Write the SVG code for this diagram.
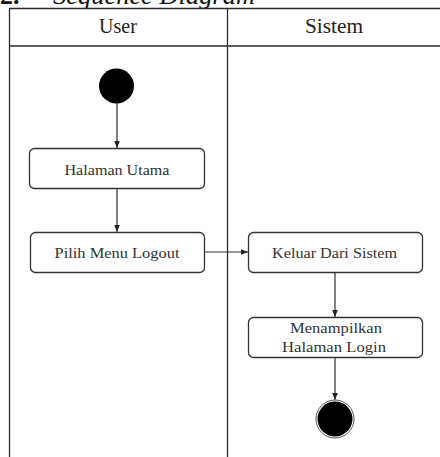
<svg xmlns="http://www.w3.org/2000/svg" width="440" height="457" viewBox="0 0 440 457">
  <defs>
    <style>
      .lane { fill: none; stroke: #2b2b2b; stroke-width: 1.3; }
      .box { fill: #ffffff; stroke: #333333; stroke-width: 1.3; }
      .lbl { font-family: "Liberation Serif", "Times New Roman", serif; font-size: 15.5px; fill: #333333; text-anchor: middle; }
      .head { font-family: "Liberation Serif", "Times New Roman", serif; font-size: 20px; fill: #222222; text-anchor: middle; }
      .edge { fill: none; stroke: #333333; stroke-width: 1.2; marker-end: url(#arrow); }
    </style>
    <marker id="arrow" viewBox="0 0 10 10" refX="10" refY="5" markerWidth="7" markerHeight="7" orient="auto" markerUnits="userSpaceOnUse">
      <path d="M0,1 L10,5 L0,9 Z" fill="#222222"/>
    </marker>
  </defs>

  <rect width="440" height="457" fill="#ffffff"/>

  <!-- section heading, partly above the page edge -->
  <text x="0" y="4" font-family="Liberation Serif, serif" font-size="26" font-weight="bold" fill="#111">2.</text>
  <text x="53" y="4" font-family="Liberation Serif, serif" font-size="26" font-style="italic" fill="#111" textLength="202" lengthAdjust="spacingAndGlyphs">Sequence Diagram</text>

  <!-- swimlanes -->
  <g id="lanes">
    <path class="lane" d="M9.5,457 V8.5 H440"/>
    <path class="lane" d="M9.5,46 H440"/>
    <path class="lane" d="M227.5,8.5 V457"/>
    <text class="head" x="118" y="33">User</text>
    <text class="head" x="334" y="33" textLength="58" lengthAdjust="spacingAndGlyphs">Sistem</text>
  </g>

  <!-- connectors -->
  <g id="connectors">
    <path class="edge" d="M117,103 V148"/>
    <path class="edge" d="M117,188 V232"/>
    <path class="edge" d="M204,252 H248"/>
    <path class="edge" d="M335,272 V317"/>
    <path class="edge" d="M335,357 V400"/>
  </g>

  <g id="start">
    <circle cx="116.5" cy="86" r="17.5" fill="#000000"/>
  </g>

  <g id="halaman-utama">
    <rect class="box" x="29.5" y="148.5" width="175" height="40" rx="5"/>
    <text class="lbl" x="117" y="175" textLength="105" lengthAdjust="spacingAndGlyphs">Halaman Utama</text>
  </g>

  <g id="pilih-menu-logout">
    <rect class="box" x="30.5" y="232.5" width="174" height="40" rx="5"/>
    <text class="lbl" x="117" y="258" textLength="125" lengthAdjust="spacingAndGlyphs">Pilih Menu Logout</text>
  </g>

  <g id="keluar-dari-sistem">
    <rect class="box" x="248.5" y="232.5" width="174" height="40" rx="5"/>
    <text class="lbl" x="334.5" y="258" textLength="125" lengthAdjust="spacingAndGlyphs">Keluar Dari Sistem</text>
  </g>

  <g id="menampilkan-halaman-login">
    <rect class="box" x="248.5" y="317.5" width="174" height="40" rx="5"/>
    <text class="lbl" x="336" y="333" textLength="92" lengthAdjust="spacingAndGlyphs">Menampilkan</text>
    <text class="lbl" x="334" y="352" textLength="104" lengthAdjust="spacingAndGlyphs">Halaman Login</text>
  </g>

  <g id="end">
    <circle cx="335" cy="419" r="19" fill="none" stroke="#555555" stroke-width="1"/>
    <circle cx="335" cy="419" r="17.5" fill="#000000"/>
  </g>
</svg>
